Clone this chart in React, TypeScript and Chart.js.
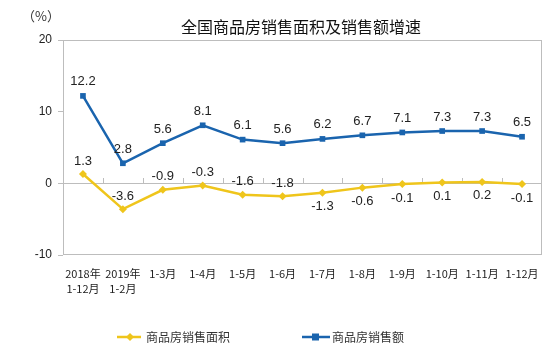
import React, { useEffect, useRef } from "react";
import { Chart, registerables } from "chart.js";

Chart.register(...registerables);

const categories: (string | string[])[] = [
  ["2018年", "1-12月"],
  ["2019年", "1-2月"],
  "1-3月",
  "1-4月",
  "1-5月",
  "1-6月",
  "1-7月",
  "1-8月",
  "1-9月",
  "1-10月",
  "1-11月",
  "1-12月",
];
const areaGrowth = [1.3, -3.6, -0.9, -0.3, -1.6, -1.8, -1.3, -0.6, -0.1, 0.1, 0.2, -0.1];
const salesGrowth = [12.2, 2.8, 5.6, 8.1, 6.1, 5.6, 6.2, 6.7, 7.1, 7.3, 7.3, 6.5];
const areaLabelAbove = [true, true, true, true, true, true, false, false, false, false, false, false];
const yTicks = [-10, 0, 10, 20];
const titleText = "全国商品房销售面积及销售额增速";
const unitText = "（%）";
const areaName = "商品房销售面积";
const salesName = "商品房销售额";

const YELLOW = "#EFC51B";
const BLUE = "#1A64AE";
const GRID = "#BDBDBD";
const TEXT = "#222222";

const decorPlugin = {
  id: "decor",
  beforeDatasetsDraw(chart: any) {
    const { ctx, chartArea, scales } = chart;
    const y0 = scales.y.getPixelForValue(0);
    ctx.save();
    ctx.strokeStyle = GRID;
    ctx.lineWidth = 1;
    ctx.strokeRect(chartArea.left + 0.5, chartArea.top + 0.5, chartArea.right - chartArea.left - 1, chartArea.bottom - chartArea.top - 1);
    ctx.beginPath();
    ctx.moveTo(chartArea.left, Math.round(y0) + 0.5);
    ctx.lineTo(chartArea.right, Math.round(y0) + 0.5);
    const n = categories.length;
    const w = (chartArea.right - chartArea.left) / n;
    for (let i = 1; i < n; i++) {
      const x = Math.round(chartArea.left + w * i) + 0.5;
      ctx.moveTo(x, Math.round(y0));
      ctx.lineTo(x, Math.round(y0) - 5);
    }
    ctx.stroke();
    ctx.restore();
  },
  afterDraw(chart: any) {
    const { ctx } = chart;
    ctx.save();
    // title
    ctx.fillStyle = "#111";
    ctx.font = "16px 'Noto Sans CJK SC'";
    ctx.textAlign = "center";
    ctx.textBaseline = "middle";
    ctx.fillText(titleText, 301, 27);
    // unit
    ctx.font = "13px 'Noto Sans CJK SC'";
    ctx.fillStyle = "#333";
    ctx.fillText(unitText, 41, 16);

    // data labels
    ctx.font = "13px 'Liberation Sans'";
    ctx.fillStyle = TEXT;
    const m0 = chart.getDatasetMeta(0);
    const m1 = chart.getDatasetMeta(1);
    m0.data.forEach((pt: any, i: number) => {
      const above = areaLabelAbove[i];
      ctx.fillText(areaGrowth[i].toFixed(1), pt.x, above ? pt.y - 13 : pt.y + 14);
    });
    m1.data.forEach((pt: any, i: number) => {
      ctx.fillText(salesGrowth[i].toFixed(1), pt.x, pt.y - 14);
    });

    // legend
    const ly = 337;
    ctx.lineWidth = 2.5;
    ctx.strokeStyle = YELLOW;
    ctx.beginPath();
    ctx.moveTo(117, ly);
    ctx.lineTo(141, ly);
    ctx.stroke();
    ctx.fillStyle = YELLOW;
    ctx.beginPath();
    ctx.moveTo(130, ly - 4);
    ctx.lineTo(134, ly);
    ctx.lineTo(130, ly + 4);
    ctx.lineTo(126, ly);
    ctx.closePath();
    ctx.fill();
    ctx.strokeStyle = BLUE;
    ctx.beginPath();
    ctx.moveTo(302, ly);
    ctx.lineTo(330, ly);
    ctx.stroke();
    ctx.fillStyle = BLUE;
    ctx.fillRect(312, ly - 3.5, 7, 7);
    ctx.fillStyle = "#333";
    ctx.font = "12px 'Noto Sans CJK SC'";
    ctx.textAlign = "left";
    ctx.fillText(areaName, 146, ly);
    ctx.fillText(salesName, 332, ly);
    ctx.restore();
  },
};

export default function App() {
  const ref = useRef<HTMLCanvasElement | null>(null);
  useEffect(() => {
    if (!ref.current) return;
    const chart = new Chart(ref.current, {
      type: "line",
      data: {
        labels: categories as any,
        datasets: [
          {
            label: areaName,
            data: areaGrowth,
            borderColor: YELLOW,
            backgroundColor: YELLOW,
            borderWidth: 2.5,
            pointStyle: "rectRot",
            pointRadius: 4,
            pointBorderWidth: 0,
            tension: 0,
          },
          {
            label: salesName,
            data: salesGrowth,
            borderColor: BLUE,
            backgroundColor: BLUE,
            borderWidth: 2.5,
            pointStyle: "rect",
            pointRadius: 4,
            pointBorderWidth: 0,
            tension: 0,
          },
        ],
      },
      options: {
        animation: false,
        responsive: false,
        maintainAspectRatio: false,
        layout: { padding: { top: 40, right: 12, left: 0, bottom: 0 } },
        plugins: {
          legend: { display: false },
          title: { display: false },
          tooltip: { enabled: false },
        },
        scales: {
          x: {
            offset: true,
            grid: { display: false, drawTicks: false },
            border: { display: false },
            ticks: {
              color: "#222",
              font: { family: "'Noto Sans CJK SC'", size: 11, lineHeight: 1.4 },
              padding: 11,
              maxRotation: 0,
              autoSkip: false,
            },
            afterFit(scale: any) {
              scale.height = 103;
            },
          },
          y: {
            min: -10,
            max: 20,
            afterBuildTicks(scale: any) {
              scale.ticks = yTicks.map((v) => ({ value: v }));
            },
            grid: { drawOnChartArea: false, color: GRID, tickLength: 5 },
            border: { display: false },
            ticks: {
              color: "#222",
              font: { family: "'Liberation Sans'", size: 12 },
              padding: 6,
            },
            afterFit(scale: any) {
              scale.width = 63;
            },
          },
        },
      },
      plugins: [decorPlugin],
    } as any);
    return () => chart.destroy();
  }, []);
  return (
    <div style={{ position: "fixed", left: 0, top: 0, width: 554, height: 358, background: "#fff" }}>
      <canvas ref={ref} width={554} height={358} style={{ width: 554, height: 358 }} />
    </div>
  );
}
